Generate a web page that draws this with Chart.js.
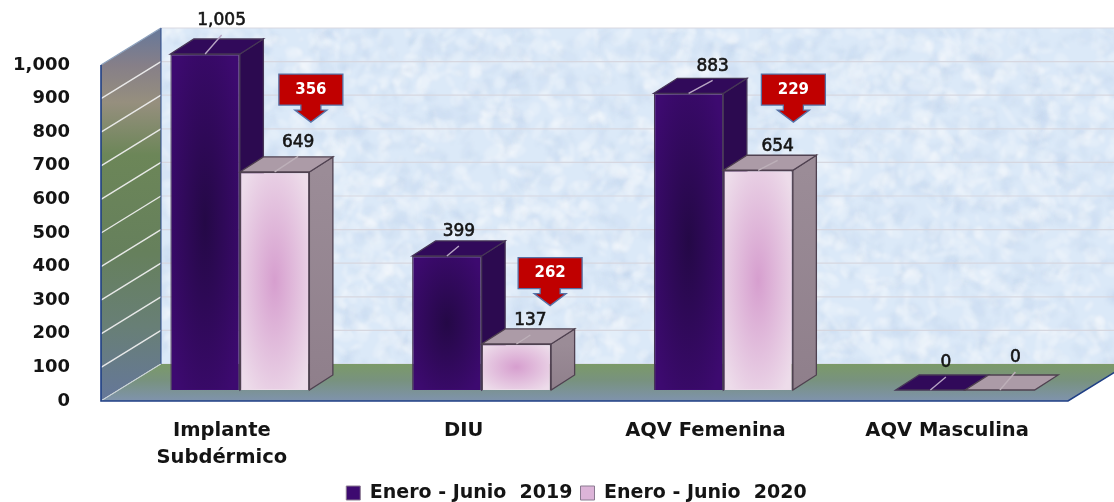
<!DOCTYPE html>
<html><head><meta charset="utf-8">
<style>html,body{margin:0;padding:0;background:#fff}canvas{display:block}</style>
<script src="https://cdn.jsdelivr.net/npm/chart.js@4"></script>
</head><body>
<canvas id="c" width="1114" height="502"></canvas>
<script>
const categories = [["Implante","Subdérmico"],"DIU","AQV Femenina","AQV Masculina"];
const seriesNames = ["Enero - Junio  2019","Enero - Junio  2020"];
const values2019 = [1005,399,883,0];
const values2020 = [649,137,654,0];
const differences = [356,262,229,null];
const calloutTipValues = [830,284,830,null];

const FONT = '"DejaVu Sans"';
const BAR_SHIFT = {x:18,y:-11};
const BAR_DEPTH = {x:23.5,y:-15};
const WALL_DEPTH = {x:60,y:-37};
const nudge2019 = [[16.5,-33],[12,-24],[24,-27],[15.5,-27]];
const nudge2020 = [[23.5,-29.5],[14,-23],[19.5,-24],[15.5,-32]];
const calloutOffsetX = [89,86.5,88,0];
const LEGEND_CENTER = {x:576.5,y:494};
const look = [
 {front:'#3d0a70',glow:'rgba(30,8,60,0.8)',side:'#2c0a50',top:'#310a5a',edge:'#463656',lead:'#b8a6c4',box:'#3d0a70'},
 {front:'#eddcea',glow:'rgba(213,155,205,0.95)',side:'#978792',top:'#ac9ba7',edge:'#4f4150',lead:'#bdb0b9',box:'#dcb4d8'}
];

function face(ctx,pts,fill,stroke){
  ctx.beginPath();pts.forEach((p,i)=>i?ctx.lineTo(p[0],p[1]):ctx.moveTo(p[0],p[1]));ctx.closePath();
  ctx.fillStyle=fill;ctx.fill();
  if(stroke){ctx.strokeStyle=stroke;ctx.lineWidth=1.3;ctx.stroke();}
}
function texture(w,h){
  const c=document.createElement('canvas');c.width=w;c.height=h;const g=c.getContext('2d');
  g.fillStyle='#dbe9f8';g.fillRect(0,0,w,h);
  let s=12345;const r=()=>(s=(s*1664525+1013904223)%4294967296)/4294967296;
  g.filter='blur(1.5px)';
  for(let i=0;i<3800;i++){
    g.fillStyle=r()<0.6?'rgba(255,255,255,0.22)':'rgba(176,203,232,0.13)';
    g.beginPath();g.ellipse(r()*w,r()*h,2+r()*11,1.5+r()*6,r()*3,0,7);g.fill();
  }
  g.filter='none';
  return c;
}
const tex=texture(960,340);

const scene={
 id:'scene',
 afterLayout(chart){
  const lg=chart.legend;
  const w=lg.right-lg.left,h=lg.bottom-lg.top;
  lg.left=LEGEND_CENTER.x-w/2;lg.right=lg.left+w;
  lg.top=LEGEND_CENTER.y-h/2;lg.bottom=lg.top+h;
 },
 beforeDraw(chart){
  const {ctx,chartArea:a,scales:{y}}=chart;
  const wx=WALL_DEPTH.x,wy=WALL_DEPTH.y;
  const far=a.right+wx+4;
  ctx.save();
  ctx.drawImage(tex,a.left+wx,a.top+wy,far-a.left-wx,a.bottom-a.top);
  ctx.strokeStyle='rgba(214,214,222,0.95)';ctx.lineWidth=1.2;
  y.ticks.forEach(t=>{const p=y.getPixelForValue(t.value)+wy;
    ctx.beginPath();ctx.moveTo(a.left+wx,p);ctx.lineTo(far,p);ctx.stroke();});
  const g=ctx.createLinearGradient(0,a.top+wy,0,a.bottom);
  g.addColorStop(0,'#66789a');g.addColorStop(0.1,'#867f88');g.addColorStop(0.2,'#968f7e');
  g.addColorStop(0.34,'#6c8658');g.addColorStop(0.6,'#66805c');g.addColorStop(0.8,'#687f76');g.addColorStop(1,'#65779a');
  face(ctx,[[a.left,a.top],[a.left+wx,a.top+wy],[a.left+wx,a.bottom+wy],[a.left,a.bottom]],g);
  ctx.strokeStyle='rgba(238,238,238,0.95)';ctx.lineWidth=1.4;
  y.ticks.forEach(t=>{const p=y.getPixelForValue(t.value);
    if(t.value===y.max)return;
    ctx.beginPath();ctx.moveTo(a.left,p);ctx.lineTo(a.left+wx,p+wy);ctx.stroke();});
  ctx.strokeStyle='#8ea2bd';ctx.beginPath();ctx.moveTo(a.left,a.top);ctx.lineTo(a.left+wx,a.top+wy);ctx.stroke();
  const f=ctx.createLinearGradient(0,a.bottom+wy,0,a.bottom);
  f.addColorStop(0,'#7b9a68');f.addColorStop(0.45,'#78927f');f.addColorStop(1,'#7f93ad');
  face(ctx,[[a.left,a.bottom],[a.left+wx,a.bottom+wy],[a.right+wx,a.bottom+wy],[a.right,a.bottom]],f);
  ctx.strokeStyle='#c9d3d6';ctx.lineWidth=1;ctx.beginPath();ctx.moveTo(a.left,a.bottom);ctx.lineTo(a.left+wx,a.bottom+wy);ctx.stroke();
  ctx.strokeStyle='#1f3f85';ctx.lineWidth=1.6;
  ctx.beginPath();ctx.moveTo(a.left,a.top);ctx.lineTo(a.left,a.bottom);ctx.lineTo(a.right,a.bottom);ctx.lineTo(a.right+wx,a.bottom+wy);ctx.stroke();
  ctx.strokeStyle='#2a4a8c';ctx.lineWidth=1;ctx.beginPath();ctx.moveTo(a.left+wx,a.top+wy);ctx.lineTo(a.left+wx,a.bottom+wy);ctx.stroke();
  ctx.restore();
 },
 beforeDatasetsDraw(chart){
  const {ctx,chartArea:a}=chart;
  const dx=BAR_DEPTH.x,dy=BAR_DEPTH.y;
  ctx.save();
  ctx.translate(BAR_SHIFT.x,BAR_SHIFT.y);
  chart.data.datasets.forEach((ds,di)=>{
   const L=look[di];
   chart.getDatasetMeta(di).data.forEach(bar=>{
    const y0=bar.y;const top=Math.max(y0,a.top);
    const hw=bar.width/2,l=bar.x-hw,r=bar.x+hw,b=bar.base;
    if(b-top>0.5){
      let sf=L.side;
      if(di===1){sf=ctx.createLinearGradient(0,top,0,b);sf.addColorStop(0,'#9b8c97');sf.addColorStop(1,'#8f7f8b');}
      face(ctx,[[r,top],[r+dx,top+dy],[r+dx,b+dy],[r,b]],sf,L.edge);
    }
    face(ctx,[[l,top],[l+dx,top+dy],[r+dx,top+dy],[r,top]],L.top,L.edge);
    if(b-top>0.5){
      bar.y=top;bar.draw(ctx);bar.y=y0;
      ctx.save();
      ctx.beginPath();ctx.rect(l+1,top+1,r-l-2,b-top-2);ctx.clip();
      ctx.translate(bar.x,(top+b)/2);ctx.scale(hw,(b-top)/2);
      const g=ctx.createRadialGradient(0,0,0,0,0,1.25);
      g.addColorStop(0,L.glow);g.addColorStop(1,L.glow.replace(/[\d.]+\)$/,'0)'));
      ctx.fillStyle=g;ctx.fillRect(-1.1,-1.1,2.2,2.2);
      ctx.restore();
    }
   });
  });
  ctx.restore();
  return false;
 },
 afterDraw(chart){
  const {ctx,scales:{x,y}}=chart;
  ctx.save();
  const all=[nudge2019,nudge2020];
  chart.data.datasets.forEach((ds,di)=>{
   chart.getDatasetMeta(di).data.forEach((bar,i)=>{
    const top=Math.max(bar.y,chart.chartArea.top)+BAR_SHIFT.y;
    const cx=bar.x+BAR_SHIFT.x,[ox,oy]=all[di][i];
    ctx.strokeStyle=look[di].lead;ctx.lineWidth=1.4;
    ctx.beginPath();ctx.moveTo(cx,top);ctx.lineTo(cx+ox,top+oy+14);ctx.stroke();
    ctx.font='17px '+FONT;ctx.fillStyle='#141414';ctx.strokeStyle='#141414';ctx.lineWidth=0.6;ctx.textAlign='center';ctx.textBaseline='middle';
    const txt=ds.data[i].toLocaleString('en-US');
    ctx.fillText(txt,cx+ox,top+oy);ctx.strokeText(txt,cx+ox,top+oy);
   });
  });
  differences.forEach((d,i)=>{
   if(d===null)return;
   const cx=x.getPixelForTick(i)+calloutOffsetX[i],tip=y.getPixelForValue(calloutTipValues[i]);
   const t=tip-48,bt=tip-17;
   face(ctx,[[cx-32,t],[cx+32,t],[cx+32,bt],[cx+10,bt],[cx+10,bt+5],[cx+16,bt+5],[cx,tip],[cx-16,bt+5],[cx-10,bt+5],[cx-10,bt],[cx-32,bt]],'#c00000','#5672a6');
   ctx.font='bold 15px '+FONT;ctx.fillStyle='#fff';ctx.textAlign='center';ctx.textBaseline='middle';
   ctx.fillText(String(d),cx,t+16);
  });
  ctx.restore();
 }
};

new Chart(document.getElementById('c'),{
 type:'bar',
 data:{labels:categories,datasets:[
  {label:seriesNames[0],data:values2019,backgroundColor:look[0].front,borderColor:look[0].edge,borderWidth:1.3},
  {label:seriesNames[1],data:values2020,backgroundColor:look[1].front,borderColor:look[1].edge,borderWidth:1.3}
 ]},
 options:{
  responsive:false,animation:false,
  layout:{padding:{left:0,right:46,top:65,bottom:0}},
  datasets:{bar:{barPercentage:1,categoryPercentage:0.575}},
  scales:{
   x:{grid:{display:false},border:{display:false},
      afterFit(s){s.height=64;},
      ticks:{color:'#141414',maxRotation:0,autoSkip:false,padding:8,font:{family:FONT,weight:'bold',size:19.5,lineHeight:1.385}}},
   y:{min:0,max:1000,grid:{display:false},border:{display:false},
      afterFit(s){s.width=101;},
      ticks:{stepSize:100,color:'#141414',padding:23,font:{family:FONT,weight:'bold',size:18},
             callback:v=>v.toLocaleString('en-US')}}
  },
  plugins:{
   title:{display:false},tooltip:{enabled:false},
   legend:{position:'bottom',labels:{
     boxWidth:14,boxHeight:14,padding:8,color:'#141414',font:{family:FONT,weight:'bold',size:19},
     generateLabels(c){return c.data.datasets.map((d,i)=>({text:d.label,fillStyle:look[i].box,strokeStyle:'#8a7a90',lineWidth:1,datasetIndex:i,fontColor:'#141414'}));}
   }}
  }
 },
 plugins:[scene]
});
</script>
</body></html>
